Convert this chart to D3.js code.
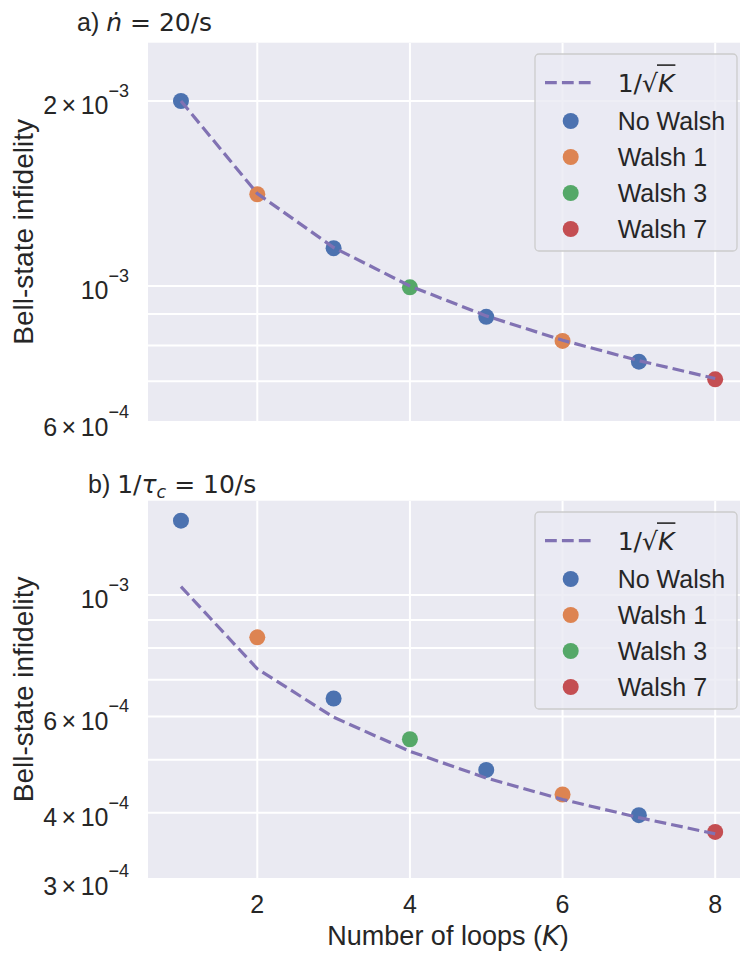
<!DOCTYPE html>
<html>
<head>
<meta charset="utf-8">
<script src="https://cdn.jsdelivr.net/npm/d3@7"></script>
<style>
  body { margin: 0; background: #fff; }
  text { fill: #262626; }
</style>
</head>
<body>
<div id="chart"></div>
<script>
// Bell-state infidelity vs number of loops (two panels, log y)
var w = 740, h = 959;

var loops = [1, 2, 3, 4, 5, 6, 7, 8];
var walsh = ["No Walsh", "Walsh 1", "No Walsh", "Walsh 3", "No Walsh", "Walsh 1", "No Walsh", "Walsh 7"];

// panel a) ndot = 20/s
var infidA = [2.0e-3, 1.41e-3, 1.152e-3, 0.995e-3, 8.91e-4, 8.14e-4, 7.53e-4, 7.05e-4];
var fitA   = [2.0e-3, 1.414e-3, 1.155e-3, 1.0e-3, 8.94e-4, 8.16e-4, 7.56e-4, 7.07e-4];
// panel b) 1/tau_c = 10/s
var infidB = [1.367e-3, 8.37e-4, 6.47e-4, 5.45e-4, 4.79e-4, 4.32e-4, 3.96e-4, 3.69e-4];
var fitB   = [1.036e-3, 7.33e-4, 5.98e-4, 5.18e-4, 4.63e-4, 4.23e-4, 3.92e-4, 3.66e-4];

var groups = ["No Walsh", "Walsh 1", "Walsh 3", "Walsh 7"];
var colors = ["#4c72b0", "#dd8452", "#55a868", "#c44e52"];
var fitColor = "#8172b3";

var xTicks = [2, 4, 6, 8];
var yTicksA = [2e-3, 1e-3, 6e-4];
var yTicksB = [1e-3, 6e-4, 4e-4, 3e-4];

var SANS = "'Liberation Sans', Arial, sans-serif";
var MATH = "'DejaVu Sans', sans-serif";

var color = d3.scaleOrdinal().domain(groups).range(colors);

var svg = d3.select("#chart").append("svg")
  .attr("width", w).attr("height", h)
  .style("display", "block");

var left = 148, right = 748;
var x = d3.scaleLinear().domain([0.568, 8.43]).range([left, right]);

var panels = [
  { top: 42.7, bottom: 421, domain: [6.03e-4, 2.488e-3], pts: infidA, fit: fitA, ticks: yTicksA, id: "a" },
  { top: 500.7, bottom: 878, domain: [3.04e-4, 1.487e-3], pts: infidB, fit: fitB, ticks: yTicksB, id: "b" }
];

function supLabel(v) {
  var e = Math.floor(Math.log10(v) + 1e-9);
  var m = Math.round(v / Math.pow(10, e));
  return { main: (m === 1 ? "" : m + " \u00d7 ") + "10", exp: "\u2212" + (-e) };
}

panels.forEach(function(p) {
  var y = d3.scaleLog().domain(p.domain).range([p.bottom, p.top]);
  var g = svg.append("g");

  g.append("clipPath").attr("id", "clip" + p.id)
    .append("rect").attr("x", left).attr("y", p.top)
    .attr("width", right - left).attr("height", p.bottom - p.top);

  g.append("rect").attr("x", left).attr("y", p.top)
    .attr("width", right - left).attr("height", p.bottom - p.top)
    .attr("fill", "#eaeaf2");

  var grid = g.append("g").attr("clip-path", "url(#clip" + p.id + ")");
  grid.selectAll("line.gy").data(y.ticks()).enter().append("line")
    .attr("x1", left).attr("x2", right)
    .attr("y1", function(d) { return y(d); }).attr("y2", function(d) { return y(d); })
    .attr("stroke", "#fff").attr("stroke-width", 2);
  grid.selectAll("line.gx").data(xTicks).enter().append("line")
    .attr("x1", function(d) { return x(d); }).attr("x2", function(d) { return x(d); })
    .attr("y1", p.top).attr("y2", p.bottom)
    .attr("stroke", "#fff").attr("stroke-width", 2);

  // y tick labels with superscript exponents
  p.ticks.forEach(function(v) {
    var lab = supLabel(v);
    var t = g.append("text").attr("x", 129).attr("y", y(v) + 13.5)
      .attr("text-anchor", "end").style("font-family", SANS).style("font-size", "25px");
    t.append("tspan").style("word-spacing", "-2.5px").text(lab.main);
    t.append("tspan").attr("dy", -17.5).style("font-size", "18px").text(lab.exp);
  });

  // y axis label
  g.append("text")
    .attr("transform", "translate(33," + ((p.top + p.bottom) / 2) + ") rotate(-90)")
    .attr("text-anchor", "middle")
    .style("font-family", SANS).style("font-size", "28px")
    .text("Bell-state infidelity");

  var plot = g.append("g").attr("clip-path", "url(#clip" + p.id + ")");

  plot.selectAll("circle.pt").data(loops).enter().append("circle")
    .attr("cx", function(d) { return x(d); })
    .attr("cy", function(d, i) { return y(p.pts[i]); })
    .attr("r", 8)
    .attr("fill", function(d, i) { return color(walsh[i]); });

  var line = d3.line()
    .x(function(d) { return x(d); })
    .y(function(d, i) { return y(p.fit[i]); });
  plot.append("path").datum(loops)
    .attr("d", line)
    .attr("fill", "none").attr("stroke", fitColor)
    .attr("stroke-width", 3.2).attr("stroke-dasharray", "11.8,5.1");

  // legend
  var lx = 535, ly = p.top + 11.3;
  var lg = g.append("g");
  lg.append("rect").attr("x", lx).attr("y", ly).attr("width", 202).attr("height", 197)
    .attr("rx", 4).attr("fill", "#eaeaf2").attr("fill-opacity", 0.8)
    .attr("stroke", "#cccccc").attr("stroke-width", 1.3);
  var r0 = ly + 28.7;
  lg.append("line").attr("x1", lx + 10).attr("x2", lx + 60).attr("y1", r0).attr("y2", r0)
    .attr("stroke", fitColor).attr("stroke-width", 3.2).attr("stroke-dasharray", "11.8,5.1");
  var ft = lg.append("text").attr("x", lx + 82.7).attr("y", r0 + 9)
    .style("font-family", MATH).style("font-size", "25px");
  ft.append("tspan").text("1/\u221a");
  ft.append("tspan").style("font-style", "italic").text("K");
  var node = ft.node();
  var k0 = node.getSubStringLength(0, 3);
  var k1 = node.getSubStringLength(0, 4);
  lg.append("line").attr("x1", lx + 82.7 + k0 - 1).attr("x2", lx + 82.7 + k1 + 1)
    .attr("y1", r0 - 17.6).attr("y2", r0 - 17.6)
    .attr("stroke", "#262626").attr("stroke-width", 1.6);

  groups.forEach(function(gname, i) {
    var ry = r0 + 36 * (i + 1) + 2.3;
    lg.append("circle").attr("cx", lx + 35.7).attr("cy", ry).attr("r", 8).attr("fill", color(gname));
    lg.append("text").attr("x", lx + 82.7).attr("y", ry + 9)
      .style("font-family", SANS).style("font-size", "25px").text(gname);
  });
});

// x tick labels (bottom panel only)
var xb = panels[1].bottom;
svg.selectAll("text.xt").data(xTicks).enter().append("text")
  .attr("x", function(d) { return x(d); }).attr("y", xb + 35)
  .attr("text-anchor", "middle")
  .style("font-family", SANS).style("font-size", "25px")
  .text(function(d) { return d; });

var xl = svg.append("text").attr("x", (left + right) / 2).attr("y", xb + 67)
  .attr("text-anchor", "middle")
  .style("font-family", SANS).style("font-size", "27px");
xl.append("tspan").text("Number of loops (");
xl.append("tspan").style("font-family", MATH).style("font-style", "italic").text("K");
xl.append("tspan").text(")");

// titles
var ta = svg.append("text").attr("x", 77).attr("y", 31)
  .style("font-family", SANS).style("font-size", "25px");
ta.append("tspan").text("a) ");
ta.append("tspan").style("font-family", MATH).style("font-style", "italic").text("\u1e45");
ta.append("tspan").style("font-family", MATH).text(" = 20/s");

var tb = svg.append("text").attr("x", 88).attr("y", 492.5)
  .style("font-family", SANS).style("font-size", "25px");
tb.append("tspan").text("b) ");
tb.append("tspan").style("font-family", MATH).text("1/");
tb.append("tspan").style("font-family", MATH).style("font-style", "italic").text("\u03c4");
tb.append("tspan").style("font-family", MATH).style("font-style", "italic")
  .style("font-size", "17.5px").attr("dy", 5).text("c");
tb.append("tspan").style("font-family", MATH).attr("dy", -5).text(" = 10/s");
</script>
</body>
</html>
